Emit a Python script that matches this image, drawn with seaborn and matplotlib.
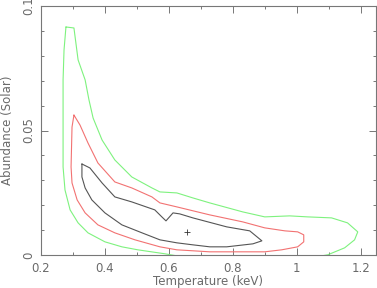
import numpy as np
import pandas as pd
import matplotlib
matplotlib.use("Agg")
import matplotlib.pyplot as plt
from matplotlib.ticker import MultipleLocator, FuncFormatter
import seaborn as sns

# confidence contours (temperature in keV, abundance in solar units)
green_kt = [0.278, 0.303, 0.316, 0.338, 0.350, 0.363, 0.391, 0.431, 0.484, 0.547,
            0.572, 0.625, 0.675, 0.728, 0.831, 0.900, 0.978, 1.034, 1.109, 1.159,
            1.191, 1.181, 1.150, 1.097, 1.009, 0.853, 0.697, 0.588, 0.503, 0.453,
            0.400, 0.347, 0.316, 0.291, 0.275, 0.269, 0.269, 0.269, 0.272, 0.278]
green_ab = [0.0915, 0.0911, 0.0783, 0.0703, 0.0623, 0.0550, 0.0462, 0.0382, 0.0314, 0.0270,
            0.0254, 0.0250, 0.0230, 0.0210, 0.0174, 0.0154, 0.0158, 0.0154, 0.0150, 0.0130,
            0.0094, 0.0062, 0.0030, 0.0002, -0.0018, -0.0026, -0.0018, 0.0006, 0.0022, 0.0034,
            0.0054, 0.0090, 0.0130, 0.0182, 0.0262, 0.0354, 0.0582, 0.0703, 0.0823, 0.0915]

red_kt = [0.303, 0.322, 0.347, 0.378, 0.431, 0.484, 0.547, 0.572, 0.625, 0.728,
          0.831, 0.900, 0.963, 1.003, 1.022, 1.022, 1.003, 0.953, 0.900, 0.831,
          0.728, 0.625, 0.572, 0.494, 0.431, 0.378, 0.338, 0.313, 0.297, 0.294,
          0.297, 0.303]
red_ab = [0.0562, 0.0522, 0.0450, 0.0370, 0.0294, 0.0270, 0.0234, 0.0210, 0.0194, 0.0162,
          0.0134, 0.0110, 0.0098, 0.0094, 0.0082, 0.0054, 0.0034, 0.0022, 0.0014, 0.0014,
          0.0014, 0.0022, 0.0034, 0.0062, 0.0090, 0.0122, 0.0170, 0.0222, 0.0290, 0.0354,
          0.0514, 0.0562]

black_kt = [0.328, 0.353, 0.391, 0.431, 0.484, 0.556, 0.578, 0.591, 0.613, 0.634,
            0.675, 0.781, 0.853, 0.891, 0.863, 0.781, 0.728, 0.675, 0.625, 0.572,
            0.516, 0.453, 0.400, 0.359, 0.338, 0.328, 0.328]
black_ab = [0.0366, 0.0350, 0.0290, 0.0234, 0.0214, 0.0182, 0.0154, 0.0138, 0.0170, 0.0166,
            0.0150, 0.0114, 0.0098, 0.0058, 0.0046, 0.0034, 0.0034, 0.0042, 0.0050, 0.0062,
            0.0090, 0.0122, 0.0170, 0.0222, 0.0270, 0.0314, 0.0366]

best_kt = [0.656]
best_ab = [0.0094]

sns.set_style("ticks")
plt.rcParams["font.family"] = ["DejaVu Sans"]

fig = plt.figure(figsize=(3.77, 2.88), dpi=100)
ax = fig.add_axes([0.1088, 0.1135, 0.8885, 0.8665])

contours = [
    (green_kt, green_ab, "#7ef27e"),
    (red_kt, red_ab, "#f27272"),
    (black_kt, black_ab, "#555555"),
]
for kt, ab, col in contours:
    sns.lineplot(x=kt, y=ab, sort=False, estimator=None, color=col,
                 linewidth=0.8, ax=ax)

sns.scatterplot(x=best_kt, y=best_ab, marker="+", color="#333333", s=14,
                linewidth=0.6, ax=ax)

ax.set_xlim(0.2, 1.248)
ax.set_ylim(0, 0.1)

ax.xaxis.set_major_locator(MultipleLocator(0.2))
ax.xaxis.set_minor_locator(MultipleLocator(0.1))
ax.yaxis.set_major_locator(MultipleLocator(0.05))
ax.yaxis.set_minor_locator(MultipleLocator(0.01))
ax.xaxis.set_major_formatter(FuncFormatter(lambda v, p: f"{v:g}"))
ax.yaxis.set_major_formatter(FuncFormatter(lambda v, p: f"{v:g}"))

grey = "#777777"
text_grey = "#6a6a6a"
ax.tick_params(which="both", direction="in", top=True, right=True,
               color=grey, width=0.7, labelsize=8.5, labelcolor=text_grey, pad=4.5)
ax.tick_params(which="major", length=5)
ax.tick_params(which="minor", length=2.5)
for lab in ax.get_yticklabels():
    lab.set_rotation(90)
    lab.set_va("center")
for sp in ax.spines.values():
    sp.set_visible(True)
    sp.set_color(grey)
    sp.set_linewidth(0.8)

ax.set_xlabel("Temperature (keV)", fontsize=8.5, color=text_grey, va="center")
ax.set_ylabel("Abundance (Solar)", fontsize=8.5, color=text_grey, va="center")
ax.xaxis.set_label_coords(0.5, -0.105)
ax.yaxis.set_label_coords(-0.100, 0.5)

fig.savefig("out.png", dpi=100)
